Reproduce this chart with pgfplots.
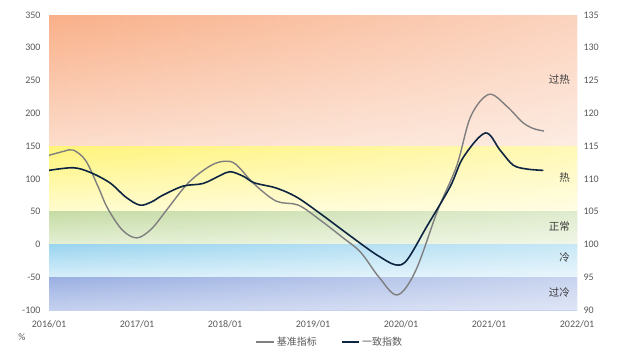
\documentclass[border=0pt]{standalone}
\usepackage{fontspec}
\setmainfont{Carlito}
\newfontfamily\cjk{Noto Sans CJK SC}
\usepackage{pgfplots}
\pgfplotsset{compat=1.18}
\usetikzlibrary{fadings}
\definecolor{txtgrey}{HTML}{595959}
\definecolor{lblgrey}{HTML}{3A3A3A}
\definecolor{greyline}{HTML}{7F7F7F}
\definecolor{navyline}{HTML}{0E2542}
\definecolor{ohTop}{HTML}{F9B089}
\definecolor{ohBot}{HTML}{FCDDCC}
\definecolor{hTop}{HTML}{FFF47A}
\definecolor{hBot}{HTML}{FFFCD0}
\definecolor{nTop}{HTML}{C6DCA6}
\definecolor{nBot}{HTML}{E5F0D4}
\definecolor{cTop}{HTML}{9BD5EF}
\definecolor{cBot}{HTML}{D8EFFA}
\definecolor{ocTop}{HTML}{9BB0E2}
\definecolor{ocBot}{HTML}{C6D1EF}
\begin{document}
\begin{tikzpicture}
\path[use as bounding box] (-49pt,-47pt) rectangle (571pt,310pt);
\begin{axis}[
  scale only axis, width=528pt, height=295pt,
  xmin=0, xmax=72, ymin=-100, ymax=350,
  axis y line*=left, axis x line*=bottom,
  axis line style={draw=none},
  tick style={draw=none},
  xtick={0,12,24,36,48,60,72},
  xticklabels={2016/01,2017/01,2018/01,2019/01,2020/01,2021/01,2022/01},
  ytick={-100,-50,...,350},
  /pgf/number format/assume math mode=true,
  ticklabel style={font=\fontsize{10}{11}\selectfont, text=txtgrey},
  yticklabel style={xshift=-5pt},
  xticklabel style={yshift=-7pt},
]
\fill[top color=ohTop, bottom color=ohBot] (axis cs:0,150) rectangle (axis cs:72,350);
\fill[top color=hTop, bottom color=hBot] (axis cs:0,50) rectangle (axis cs:72,150);
\fill[top color=nTop, bottom color=nBot] (axis cs:0,0) rectangle (axis cs:72,50);
\fill[top color=cTop, bottom color=cBot] (axis cs:0,-50) rectangle (axis cs:72,0);
\fill[top color=ocTop, bottom color=ocBot] (axis cs:0,-100) rectangle (axis cs:72,-50);
\fill[white, path fading=west, opacity=0.45] (axis cs:0,-100) rectangle (axis cs:72,350);
\draw[draw=black!15] (axis cs:72,-100) -- (axis cs:72,350);
\addplot[greyline, line width=1.4pt, smooth, tension=0.55] coordinates {
(0,136) (2,142) (3.3,144) (5,128) (6.7,88) (8,55) (10,22) (12,10) (14,24) (16,52)
(19,94) (22,120) (24,127) (25.5,122) (28,92) (31,66) (34,60) (37,37) (40,11)
(42.5,-12) (45,-50) (47.5,-77) (50,-40) (53,52) (55.6,120) (57.5,195) (60,229)
(62.5,210) (64.5,187) (66,177) (67.5,173)
};
\end{axis}
\begin{axis}[
  scale only axis, width=528pt, height=295pt,
  xmin=0, xmax=72, ymin=90, ymax=135,
  axis y line*=right, axis x line=none,
  axis line style={draw=none},
  tick style={draw=none},
  ytick={90,95,...,135},
  /pgf/number format/assume math mode=true,
  ticklabel style={font=\fontsize{10}{11}\selectfont, text=txtgrey},
  yticklabel style={xshift=3pt},
  legend style={at={(0.532,-0.108)}, anchor=center, draw=none, fill=none,
    legend columns=2, font=\cjk\fontsize{10}{12}\selectfont, text=txtgrey,
    /tikz/every even column/.append style={column sep=22pt}},
  legend image code/.code={\draw[#1] (0cm,0cm) -- (0.62cm,0cm);},
]
\addlegendimage{greyline, line width=1.4pt}
\addlegendentry{基准指标}
\addplot[navyline, line width=1.6pt, smooth, tension=0.55] coordinates {
(0,111.3) (3.3,111.7) (5.6,111.0) (8.3,109.4) (10.5,107.2) (12.4,106.0) (14,106.5)
(15.5,107.5) (18.3,108.9) (21,109.3) (23.3,110.5) (24.7,111.1) (26.5,110.4)
(28,109.4) (31,108.6) (33.8,107.2) (37,104.7) (40,102.2) (43.4,99.4) (45,98.2)
(47.2,96.9) (48.8,97.6) (51.5,102.7) (54.7,108.8) (56.5,113.3) (59.5,117.0)
(61.5,114.4) (63.3,112.1) (65.2,111.5) (67.4,111.3)
};
\addlegendentry{一致指数}
\end{axis}
\node[text=txtgrey, font=\fontsize{10}{11}\selectfont] at (-27pt,-27pt) {\%};
\begin{scope}[every node/.style={anchor=east, text=lblgrey, font=\cjk\fontsize{10.5}{12}\selectfont, inner sep=0pt}]
\node at (521pt,230pt) {过热};
\node at (521pt,132pt) {热};
\node at (521pt,83pt) {正常};
\node at (521pt,52pt) {冷};
\node at (521pt,17pt) {过冷};
\end{scope}
\end{tikzpicture}
\end{document}
